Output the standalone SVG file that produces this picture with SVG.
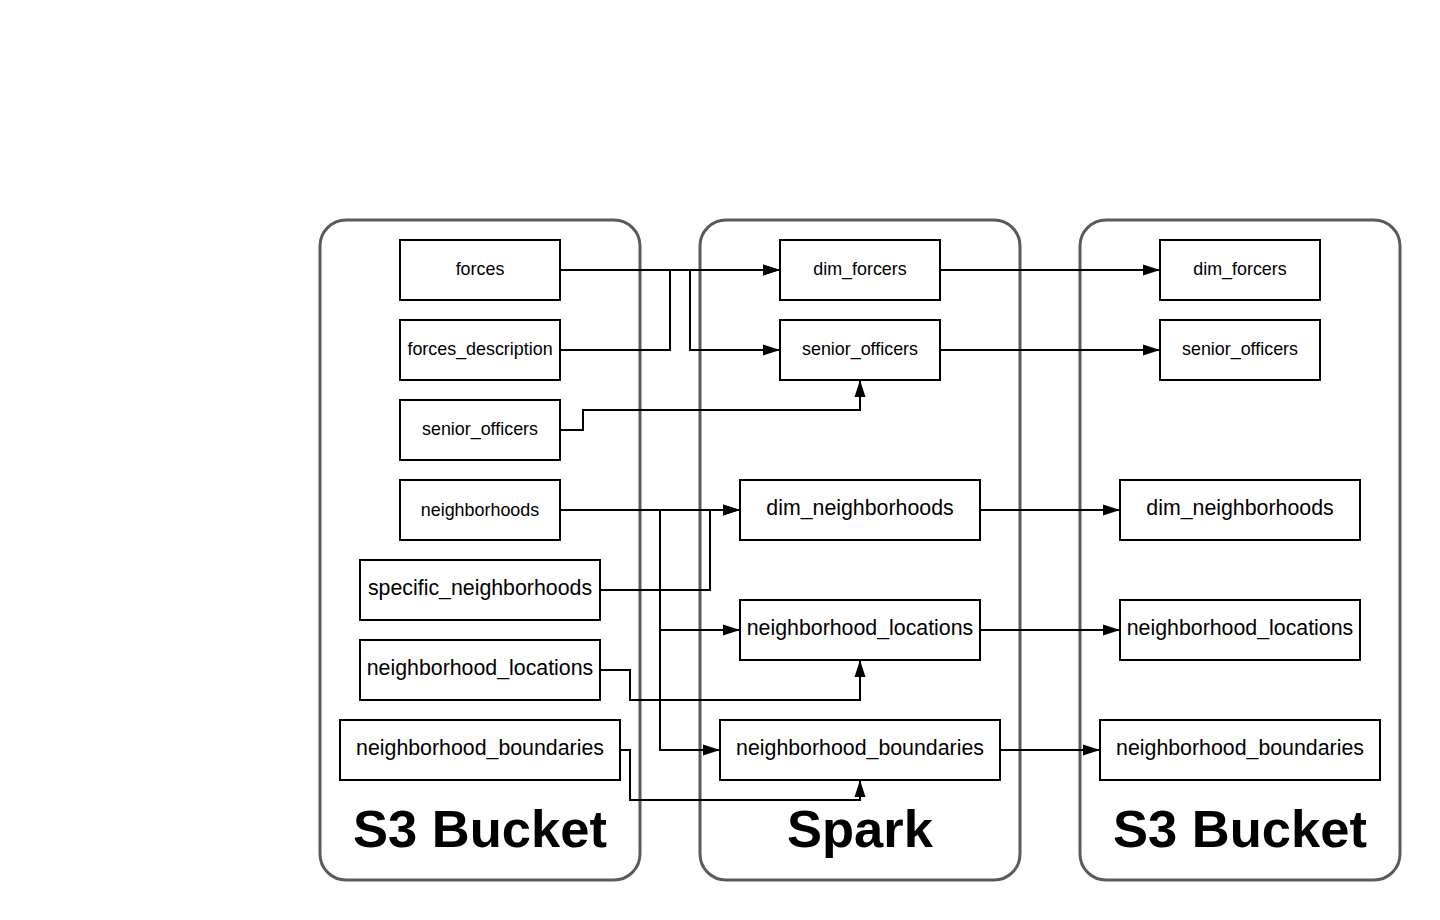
<svg xmlns="http://www.w3.org/2000/svg" width="1440" height="920" viewBox="0 0 1440 920">
<defs>
<marker id="arrow" markerUnits="userSpaceOnUse" markerWidth="18" markerHeight="12" refX="17" refY="6" orient="auto">
<path d="M0,0.5 L17,6 L0,11.5 z" fill="#000"/>
</marker>
<style>
.container{fill:#fff;stroke:#5a5a5a;stroke-width:3}
.box{fill:#fff;stroke:#000;stroke-width:2}
.conn{fill:none;stroke:#000;stroke-width:2;marker-end:url(#arrow)}
.s{font-family:"Liberation Sans",Arial,sans-serif;font-size:17.9px;fill:#000;text-anchor:middle}
.b{font-family:"Liberation Sans",Arial,sans-serif;font-size:21.33px;fill:#000;text-anchor:middle}
.title{font-family:"Liberation Sans",Arial,sans-serif;font-size:52.5px;font-weight:bold;fill:#000;text-anchor:middle}
</style>
</defs>
<rect width="1440" height="920" fill="#fff"/>
<g id="containers">
<g id="s3-source"><rect class="container" x="320" y="220" width="320" height="660" rx="26"/><text class="title" x="480" y="847">S3 Bucket</text></g>
<g id="spark"><rect class="container" x="700" y="220" width="320" height="660" rx="26"/><text class="title" x="860" y="847">Spark</text></g>
<g id="s3-target"><rect class="container" x="1080" y="220" width="320" height="660" rx="26"/><text class="title" x="1240" y="847">S3 Bucket</text></g>
</g>
<g id="connectors">
<path class="conn" d="M560,270 H780"/>
<path class="conn" d="M560,350 H670 V270 H780"/>
<path class="conn" d="M560,270 H690 V350 H780"/>
<path class="conn" d="M560,430 H583 V410 H860 V380"/>
<path class="conn" d="M560,510 H740"/>
<path class="conn" d="M600,590 H710 V510 H740"/>
<path class="conn" d="M560,510 H660 V630 H740"/>
<path class="conn" d="M560,510 H660 V750 H720"/>
<path class="conn" d="M600,670 H630 V700 H860 V660"/>
<path class="conn" d="M620,750 H630 V800 H860 V780"/>
<path class="conn" d="M940,270 H1160"/>
<path class="conn" d="M940,350 H1160"/>
<path class="conn" d="M980,510 H1120"/>
<path class="conn" d="M980,630 H1120"/>
<path class="conn" d="M1000,750 H1100"/>
</g>
<g id="src-forces"><rect class="box" x="400" y="240" width="160" height="60"/><text class="s" x="480" y="275">forces</text></g>
<g id="src-forces-description"><rect class="box" x="400" y="320" width="160" height="60"/><text class="s" x="480" y="355">forces_description</text></g>
<g id="src-senior-officers"><rect class="box" x="400" y="400" width="160" height="60"/><text class="s" x="480" y="435">senior_officers</text></g>
<g id="src-neighborhoods"><rect class="box" x="400" y="480" width="160" height="60"/><text class="s" x="480" y="515.5">neighborhoods</text></g>
<g id="src-specific-neighborhoods"><rect class="box" x="360" y="560" width="240" height="60"/><text class="b" x="480" y="594.5">specific_neighborhoods</text></g>
<g id="src-neighborhood-locations"><rect class="box" x="360" y="640" width="240" height="60"/><text class="b" x="480" y="674.5">neighborhood_locations</text></g>
<g id="src-neighborhood-boundaries"><rect class="box" x="340" y="720" width="280" height="60"/><text class="b" x="480" y="754.5">neighborhood_boundaries</text></g>
<g id="spark-dim-forcers"><rect class="box" x="780" y="240" width="160" height="60"/><text class="s" x="860" y="275">dim_forcers</text></g>
<g id="spark-senior-officers"><rect class="box" x="780" y="320" width="160" height="60"/><text class="s" x="860" y="355">senior_officers</text></g>
<g id="spark-dim-neighborhoods"><rect class="box" x="740" y="480" width="240" height="60"/><text class="b" x="860" y="514.5">dim_neighborhoods</text></g>
<g id="spark-neighborhood-locations"><rect class="box" x="740" y="600" width="240" height="60"/><text class="b" x="860" y="634.5">neighborhood_locations</text></g>
<g id="spark-neighborhood-boundaries"><rect class="box" x="720" y="720" width="280" height="60"/><text class="b" x="860" y="754.5">neighborhood_boundaries</text></g>
<g id="dst-dim-forcers"><rect class="box" x="1160" y="240" width="160" height="60"/><text class="s" x="1240" y="275">dim_forcers</text></g>
<g id="dst-senior-officers"><rect class="box" x="1160" y="320" width="160" height="60"/><text class="s" x="1240" y="355">senior_officers</text></g>
<g id="dst-dim-neighborhoods"><rect class="box" x="1120" y="480" width="240" height="60"/><text class="b" x="1240" y="514.5">dim_neighborhoods</text></g>
<g id="dst-neighborhood-locations"><rect class="box" x="1120" y="600" width="240" height="60"/><text class="b" x="1240" y="634.5">neighborhood_locations</text></g>
<g id="dst-neighborhood-boundaries"><rect class="box" x="1100" y="720" width="280" height="60"/><text class="b" x="1240" y="754.5">neighborhood_boundaries</text></g>
</svg>
